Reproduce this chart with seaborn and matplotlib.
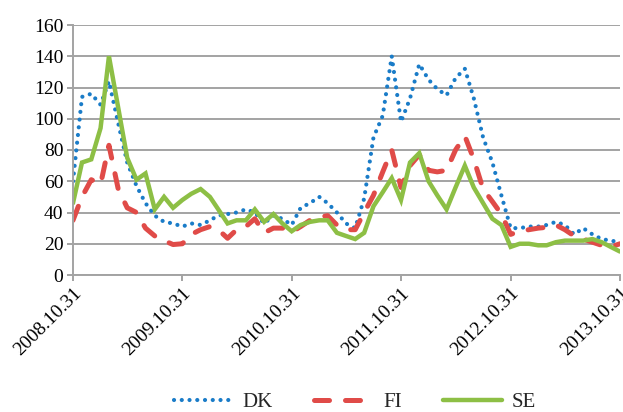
"""
Monthly index for DK / FI / SE, 2008.10.31 - 2013.10.31.
"""

import matplotlib
matplotlib.use("Agg")
import matplotlib.pyplot as plt
import matplotlib.dates as mdates
import pandas as pd
import seaborn as sns

# ── data (month-end values) ──────────────────────────────────────────
DK = [60, 114, 116, 109, 124, 97, 72, 57, 46, 38, 34, 33, 31, 33, 32, 35, 38, 39, 40, 42,
      40, 33, 38, 36, 32, 43, 46, 50, 46, 40, 33, 30, 49, 88, 102, 140, 98, 113, 135, 125,
      119, 115, 126, 132, 113, 88, 72, 51, 30, 30, 31, 31, 32, 34, 32, 26, 30, 26, 23, 22, 21]
FI = [35, 50, 61, 58, 83, 55, 43, 40, 30, 25, 22, 19.5, 20, 26, 29, 31, 29, 23.5, 29, 31,
      36, 27, 30, 30, 27.5, 31, 35, 37, 38, 32, 29, 29, 40, 51, 66, 80, 56, 70, 77, 67,
      66, 67, 80, 89, 74, 55, 47, 39, 26, 28, 29, 30, 30.5, 32, 29, 25, 23, 21, 19, 18, 20]
SE = [46, 72, 74, 94, 140, 107, 75, 61, 65, 42, 50, 43, 48, 52, 55, 50, 42, 33, 35, 35,
      42, 34, 39, 33, 28, 32, 34, 35, 35, 27, 25, 23, 27, 44, 53, 62, 48, 72, 78, 60,
      51, 42, 56, 70, 56, 46, 36, 32, 18, 20, 20, 19, 19, 21, 22, 22, 22, 23, 21, 18, 15]
START = "2008-10-31"
TICK_YEARS = [2008, 2009, 2010, 2011, 2012, 2013]
Y_TICKS = [0, 20, 40, 60, 80, 100, 120, 140, 160]

dates = pd.date_range(START, periods=len(DK), freq="ME")

sns.set_theme(style="white")
plt.rcParams["font.family"] = ["Liberation Serif", "DejaVu Serif"]

GRAY = "#a3a3a3"

fig = plt.figure(figsize=(6.23, 4.12), dpi=100)
ax = fig.add_axes([73 / 623, 1 - 275 / 412, (620 - 73) / 623, 250 / 412])

sns.lineplot(x=dates, y=DK, ax=ax, color="#1a7cc8", linewidth=3.0, label="DK",
             linestyle=(0, (0.01, 1.85)), dash_capstyle="round")
sns.lineplot(x=dates, y=FI, ax=ax, color="#e04b48", linewidth=3.6, label="FI",
             linestyle=(0, (3.0, 3.2)), dash_capstyle="round")
sns.lineplot(x=dates, y=SE, ax=ax, color="#8dbf45", linewidth=3.2, label="SE",
             solid_joinstyle="miter")

ax.set_xlim(dates[0], dates[-1])
ax.set_ylim(0, 160)
ax.set_yticks(Y_TICKS)
ticks = [pd.Timestamp(f"{y}-10-31") for y in TICK_YEARS]
ax.set_xticks(ticks)
ax.xaxis.set_major_formatter(mdates.DateFormatter("%Y.%m.%d"))
for lab in ax.get_xticklabels():
    lab.set_rotation(45)
    lab.set_ha("right")
    lab.set_rotation_mode("anchor")

ax.set_axisbelow(True)
ax.yaxis.grid(True, color=GRAY, linewidth=1.4)
ax.xaxis.grid(False)
for side in ["top", "right"]:
    ax.spines[side].set_visible(False)
for side in ["left", "bottom"]:
    ax.spines[side].set_color(GRAY)
    ax.spines[side].set_linewidth(1.4)
ax.tick_params(axis="both", direction="out", length=4, width=1.4, color=GRAY,
               labelsize=14, labelcolor="black", pad=3)
ax.tick_params(left=True, bottom=True)
ax.set_xlabel("")
ax.set_ylabel("")

handles, labels = ax.get_legend_handles_labels()
ax.get_legend().remove()
fig.legend(handles, labels, loc="center", bbox_to_anchor=(355 / 623, 0.024), ncol=3,
           frameon=False, fontsize=15, handlelength=2.8, handletextpad=0.5,
           columnspacing=2.0)

fig.savefig("out.png", dpi=100)
plt.close(fig)
